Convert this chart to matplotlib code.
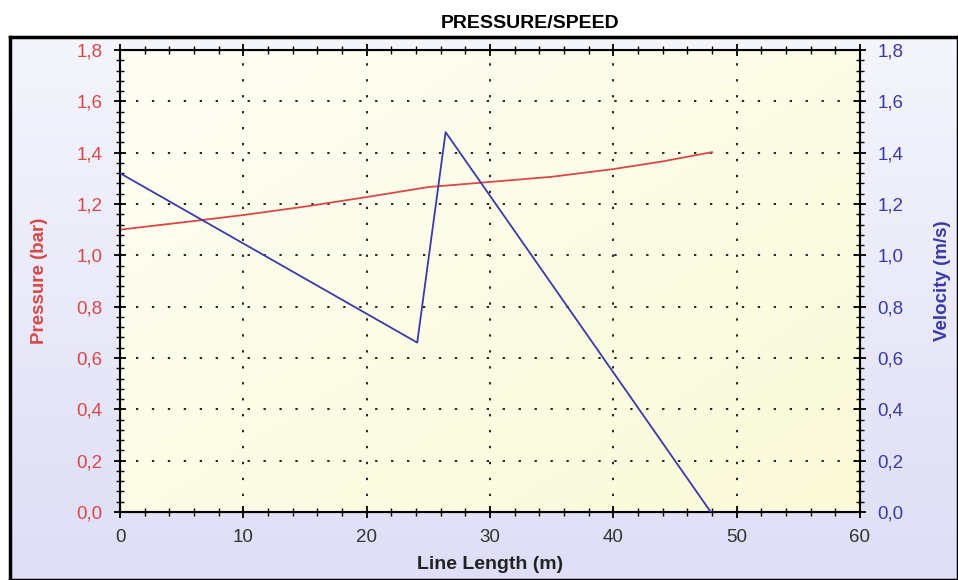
import numpy as np
import matplotlib
matplotlib.use("Agg")
from matplotlib import pyplot as plt
from matplotlib.ticker import MultipleLocator, FuncFormatter
from matplotlib.colors import LinearSegmentedColormap

plt.rcParams['font.family'] = ['Liberation Sans', 'DejaVu Sans']

# pressure along the line (bar)
press_x = [0, 5, 10, 15, 20, 25, 30, 35, 40, 44, 48]
press_y = [1.10, 1.128, 1.157, 1.19, 1.227, 1.266, 1.286, 1.306, 1.336, 1.366, 1.402]

# velocity along the line (m/s)
vel_x = [0, 24.1, 26.4, 47.9]
vel_y = [1.32, 0.66, 1.48, 0.0]

fig = plt.figure(figsize=(9.58, 5.8), dpi=100)

# outer background with frame
bg = fig.add_axes([10 / 958, 0, 1 - 10 / 958, 1 - 37 / 580])
grad = np.linspace(0, 1, 256).reshape(-1, 1) * np.ones((1, 256))
cm_bg = LinearSegmentedColormap.from_list('bg', ['#f5f5fc', '#dedef6'])
bg.imshow(grad, cmap=cm_bg, aspect='auto', extent=[0, 1, 0, 1], origin='upper')
bg.set_xticks([])
bg.set_yticks([])
for s in bg.spines.values():
    s.set_linewidth(2.5)
    s.set_color('black')
bg.set_zorder(0)

fig.text(530 / 958, 1 - 23 / 580, 'PRESSURE/SPEED', ha='center', va='center',
         fontsize=14, fontweight='bold')

ax = fig.add_axes([120 / 958, 1 - 512 / 580, 740 / 958, 462 / 580])
ax.set_zorder(1)
cm_plot = LinearSegmentedColormap.from_list('pl', ['#fefef5', '#fafad8'])
g2 = np.add.outer(np.linspace(0, 1, 100), np.linspace(0, 1, 100)) / 2
ax.imshow(g2, cmap=cm_plot, aspect='auto', extent=[0, 1, 0, 1], origin='upper',
          transform=ax.transAxes, zorder=0)

red = '#d84848'
blue = '#3a3aa8'
comma = FuncFormatter(lambda v, p: ('%.1f' % v).replace('.', ','))

ax.plot(press_x, press_y, color=red, lw=1.3, zorder=3)
ax.set_xlim(0, 60)
ax.set_ylim(0, 1.8)
ax.xaxis.set_major_locator(MultipleLocator(10))
ax.xaxis.set_minor_locator(MultipleLocator(2))
ax.yaxis.set_major_locator(MultipleLocator(0.2))
ax.yaxis.set_minor_locator(MultipleLocator(0.04))
ax.yaxis.set_major_formatter(comma)
ax.grid(True, which='major', color='#222222', linestyle=(0, (1.2, 7)), linewidth=1.4)
ax.tick_params(which='major', direction='inout', length=9, width=1.3, top=True,
               labelsize=13.5)
ax.tick_params(which='minor', direction='inout', length=6, width=1.0, top=True)
ax.tick_params(axis='y', colors='black', labelcolor=red, pad=8)
ax.tick_params(axis='x', labelcolor='#333333', pad=8)
for side in ['bottom', 'top', 'left', 'right']:
    ax.spines[side].set_linewidth(1.5)
ax.set_xlabel('Line Length (m)', fontsize=14, fontweight='bold', color='#222222')
ax.xaxis.set_label_coords(0.5, -0.095)
ax.set_ylabel('Pressure (bar)', fontsize=13.5, fontweight='bold', color=red)
ax.yaxis.set_label_coords(-0.097, 0.5)

ax2 = ax.twinx()
ax2.plot(vel_x, vel_y, color=blue, lw=1.3, zorder=3)
ax2.set_ylim(0, 1.8)
ax2.yaxis.set_major_locator(MultipleLocator(0.2))
ax2.yaxis.set_minor_locator(MultipleLocator(0.04))
ax2.yaxis.set_major_formatter(comma)
ax2.tick_params(which='major', direction='inout', length=9, width=1.3, labelsize=13.5,
                labelcolor=blue, pad=8)
ax2.tick_params(which='minor', direction='inout', length=6, width=1.0)
ax2.set_ylabel('Velocity (m/s)', fontsize=13.5, fontweight='bold', color=blue)
ax2.yaxis.set_label_coords(1.1, 0.5)
ax.tick_params(axis='y', right=False, which='both')

fig.savefig('out.png', dpi=100)
